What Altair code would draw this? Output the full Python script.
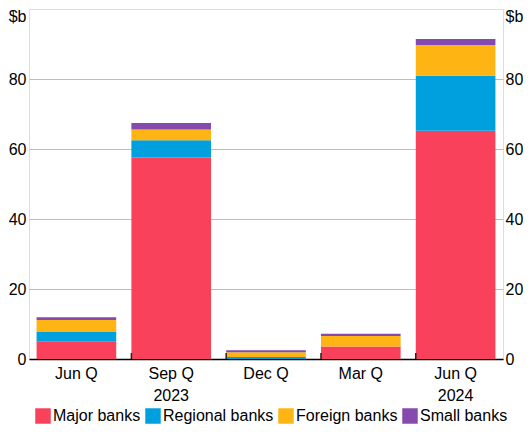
import altair as alt
import pandas as pd

# ---- data ----
cats = ["Jun Q 2023", "Sep Q 2023", "Dec Q 2023", "Mar Q 2024", "Jun Q 2024"]
label_line1 = ["Jun Q", "Sep Q", "Dec Q", "Mar Q", "Jun Q"]
label_line2 = ["", "2023", "", "", "2024"]

series_names = ["Major banks", "Regional banks", "Foreign banks", "Small banks"]
series_colors = ["#F9415C", "#00A0DE", "#FEB413", "#8649AE"]

major = [4.95, 57.6, 0.0, 3.6, 65.2]
regional = [2.9, 4.9, 0.57, 0.0, 15.7]
foreign = [3.3, 3.1, 1.35, 2.95, 8.8]
small = [0.8, 1.8, 0.55, 0.65, 1.7]

y_ticks = [0, 20, 40, 60, 80]

rows = []
for k, (name, vals) in enumerate(zip(series_names, [major, regional, foreign, small])):
    for c, v in zip(cats, vals):
        rows.append({"cat": c, "series": name, "value": v, "order": k})
df = pd.DataFrame(rows)
tick_df = pd.DataFrame({"cat": cats[1:]})

# multi-line x labels
expr = "datum.value"
for c, a, b in reversed(list(zip(cats, label_line1, label_line2))):
    lab = f"['{a}', '{b}']" if b else f"'{a}'"
    expr = f"datum.value === '{c}' ? {lab} : ({expr})"

FONT = "Liberation Sans"

x_axis = alt.Axis(
    title=None, labelExpr=expr, labelAngle=0, labelFontSize=16, labelColor="black",
    labelBaseline="top", labelLineHeight=22, labelPadding=6, ticks=False,
    domain=True, domainColor="black", domainWidth=1.5, labelFont=FONT,
)
x_scale = alt.Scale(domain=cats, paddingInner=0.16, paddingOuter=0.08)
y_scale = alt.Scale(domain=[0, 100], nice=False)

bars = alt.Chart(df).mark_bar().encode(
    x=alt.X("cat:N", scale=x_scale, axis=x_axis),
    y=alt.Y(
        "value:Q", stack="zero", scale=y_scale,
        axis=alt.Axis(
            values=y_ticks, grid=True, gridColor="#BDBDBD", gridWidth=1, ticks=False,
            domain=False, labelFontSize=16, labelColor="black", labelPadding=3,
            labelFont=FONT, title="$b", titleAngle=0, titleAlign="right",
            titleBaseline="alphabetic", titleX=-3, titleY=12, titleFontSize=16,
            titleFontWeight="normal", titleColor="black", titleFont=FONT,
        ),
    ),
    color=alt.Color(
        "series:N",
        scale=alt.Scale(domain=series_names, range=series_colors),
        legend=alt.Legend(
            orient="none", legendX=6, legendY=399, direction="horizontal", title=None,
            symbolType="square", symbolSize=240, symbolStrokeWidth=0, symbolOpacity=1,
            labelFontSize=16, labelOffset=2, columnPadding=4, padding=0,
            labelColor="black", labelFont=FONT,
        ),
    ),
    order=alt.Order("order:Q", sort="ascending"),
)

right_axis = alt.Chart(df).mark_point(opacity=0).encode(
    x=alt.X("cat:N", scale=x_scale, axis=x_axis),
    y=alt.Y(
        "value:Q", scale=y_scale,
        axis=alt.Axis(
            orient="right", values=y_ticks, grid=False, ticks=False, domain=False,
            labelFontSize=16, labelColor="black", labelPadding=2, labelFont=FONT,
            title="$b", titleAngle=0, titleAlign="left", titleBaseline="alphabetic",
            titleX=2, titleY=12, titleFontSize=16, titleFontWeight="normal",
            titleColor="black", titleFont=FONT,
        ),
    ),
)

ticks = alt.Chart(tick_df).mark_rule(color="#222222", strokeWidth=1.5).encode(
    x=alt.X("cat:N", bandPosition=0, scale=x_scale, axis=x_axis),
    y=alt.value(344),
    y2=alt.value(350),
)

chart = (
    alt.layer(bars, ticks, right_axis)
    .resolve_scale(y="independent")
    .resolve_axis(y="independent")
    .properties(
        width=474, height=350,
        autosize=alt.AutoSizeParams(type="none"),
        padding={"left": 21, "top": 1, "right": 20, "bottom": 65},
        title=alt.TitleParams(
            "Only those banks that have previously issued bonds",
            fontSize=16, fontWeight="normal", color="black", font=FONT, offset=4,
        ),
    )
    .configure_view(stroke="#222222", strokeWidth=1)
    .configure(font=FONT)
)

chart.save("out.html", embed_options={"renderer": "svg", "actions": False})
